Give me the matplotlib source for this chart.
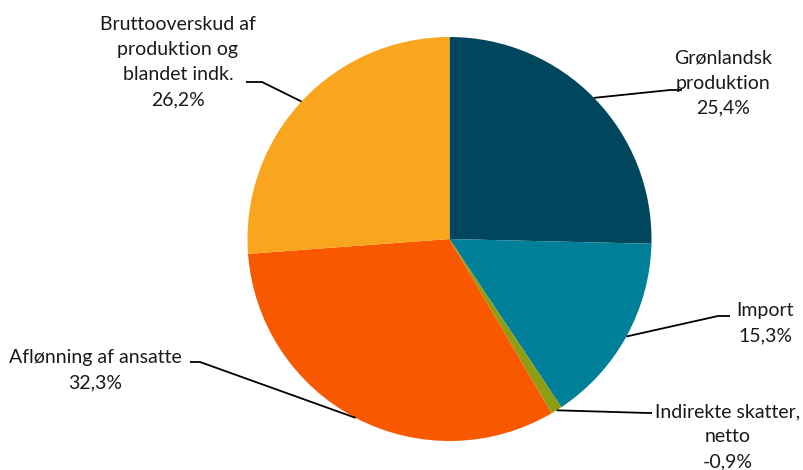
import numpy as np
import matplotlib.pyplot as plt

labels = ["Grønlandsk\nproduktion", "Import", "Indirekte skatter,\nnetto",
          "Aflønning af ansatte", "Bruttooverskud af\nproduktion og\nblandet indk."]
values = [25.4, 15.3, 0.9, 32.3, 26.2]
shown = ["25,4%", "15,3%", "-0,9%", "32,3%", "26,2%"]
colors = ["#00465C", "#007F98", "#8E9E12", "#F75800", "#F9A61E"]

# label text centres and elbow points (pixels, y down)
text_pos = [(723, 83), (765, 323), (728, 437), (95, 370), (178, 62)]
elbows = [(670, 90, 682), (718, 316, 730), (648, 413, 652), (200, 362, 190), (262, 82, 246)]

W, H = 804, 470
plt.rcParams['font.family'] = ['Lato', 'DejaVu Sans']
fig = plt.figure(figsize=(W / 100, H / 100), dpi=100)
ax = fig.add_axes([0, 0, 1, 1])

cx, cy, r = 449.5, H - 239, 202
wedges, _ = ax.pie(values, colors=colors, startangle=90, counterclock=False,
                   center=(cx, cy), radius=r, frame=True)
ax.set_xlim(0, W)
ax.set_ylim(0, H)
ax.set_axis_off()

for w, lab, pct, (tx, ty), (ex, ey, hx) in zip(wedges, labels, shown, text_pos, elbows):
    mid = np.deg2rad((w.theta1 + w.theta2) / 2)
    px, py = cx + r * np.cos(mid), cy + r * np.sin(mid)
    ax.plot([px, ex, hx], [py, H - ey, H - ey], color="black", lw=1.3,
            solid_capstyle="butt")
    ax.text(tx, H - ty, lab + "\n" + pct, ha="center", va="center",
            fontsize=14, color="#1a1a1a", linespacing=1.57)

plt.savefig("out.png", dpi=100, facecolor="white")
